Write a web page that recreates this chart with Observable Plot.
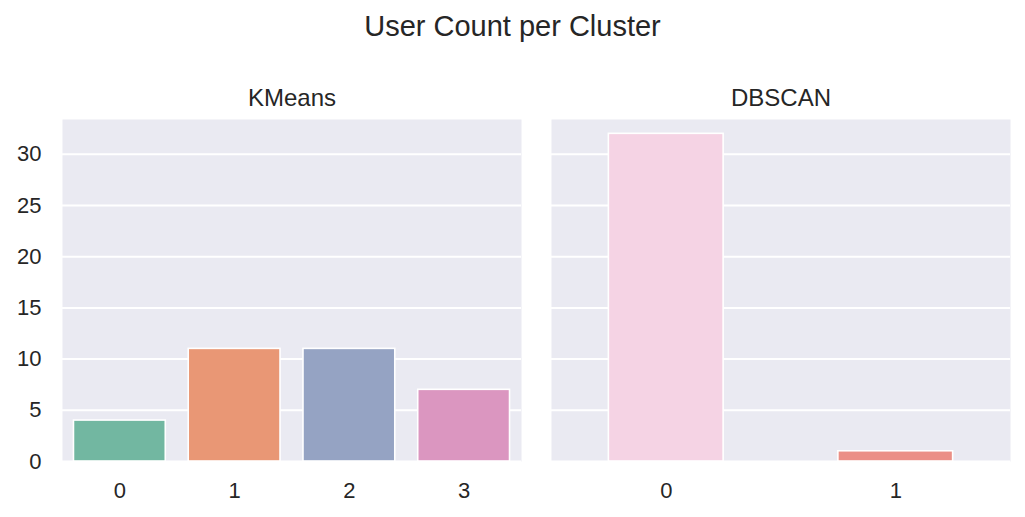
<!DOCTYPE html>
<html>
<head>
<meta charset="utf-8">
<script src="https://cdn.jsdelivr.net/npm/d3@7"></script>
<script src="https://cdn.jsdelivr.net/npm/@observablehq/plot@0.6"></script>
<style>
  html, body { margin: 0; padding: 0; background: #ffffff; }
  #wrap { position: relative; width: 1025px; height: 517px; overflow: hidden;
          font-family: "Liberation Sans", Arial, sans-serif; color: #262626; }
  #title { position: absolute; left: 0; width: 1025px; top: 12px; text-align: center;
           font-size: 29px; line-height: 29px; }
  .panel { position: absolute; top: 0; }
  .panel svg { font-family: "Liberation Sans", Arial, sans-serif; }
</style>
</head>
<body>
<div id="wrap">
  <div id="title">User Count per Cluster</div>
  <div id="left" class="panel" style="left:0px"></div>
  <div id="right" class="panel" style="left:530px"></div>
</div>
<script>
// ---- data ----
const kmeansClusters = ["0", "1", "2", "3"];
const kmeansCounts = [4, 11, 11, 7];
const dbscanClusters = ["0", "1"];
const dbscanCounts = [32, 1];
const yTicks = [0, 5, 10, 15, 20, 25, 30];
const kmeansPalette = ["#72b7a1", "#e99775", "#95a3c3", "#db96c0"];
const dbscanPalette = ["#f5d3e4", "#eb8f86"];

const kmeansData = kmeansClusters.map((c, i) => ({cluster: c, count: kmeansCounts[i]}));
const dbscanData = dbscanClusters.map((c, i) => ({cluster: c, count: dbscanCounts[i]}));

const TEXT = "#262626";

function panel({data, domain, palette, title, width, ml, mr, pin, pout, showY}) {
  return Plot.plot({
    width, height: 517,
    marginLeft: ml, marginRight: mr, marginTop: 119, marginBottom: 56,
    style: {color: TEXT, background: "transparent", fontFamily: '"Liberation Sans", Arial, sans-serif'},
    x: {domain, paddingInner: pin, paddingOuter: pout, round: false, label: null},
    y: {domain: [0, 33.4], label: null},
    color: {domain, range: palette},
    marks: [
      Plot.frame({fill: "#eaeaf2", stroke: null}),
      Plot.gridY(yTicks, {stroke: "#ffffff", strokeOpacity: 1, strokeWidth: 2}),
      showY
        ? Plot.axisY({ticks: yTicks, tickSize: 0, tickPadding: 21, fontSize: 22, label: null, tickFormat: d => String(d)})
        : Plot.axisY({ticks: [], label: null}),
      Plot.axisX({tickSize: 0, tickPadding: 21, fontSize: 22, label: null}),
      Plot.barY(data, {x: "cluster", y: "count", fill: "cluster", stroke: "#ffffff", strokeWidth: 1.6}),
      Plot.text([title], {frameAnchor: "top", dy: -21, lineAnchor: "middle", fontSize: 24, fill: TEXT})
    ]
  });
}

document.getElementById("left").appendChild(panel({
  data: kmeansData, domain: kmeansClusters, palette: kmeansPalette, title: "KMeans",
  width: 530, ml: 62, mr: 9, pin: 0.2, pout: 0.1, showY: true
}));
document.getElementById("right").appendChild(panel({
  data: dbscanData, domain: dbscanClusters, palette: dbscanPalette, title: "DBSCAN",
  width: 495, ml: 21, mr: 15, pin: 0.5, pout: 0.25, showY: false
}));
</script>
</body>
</html>
